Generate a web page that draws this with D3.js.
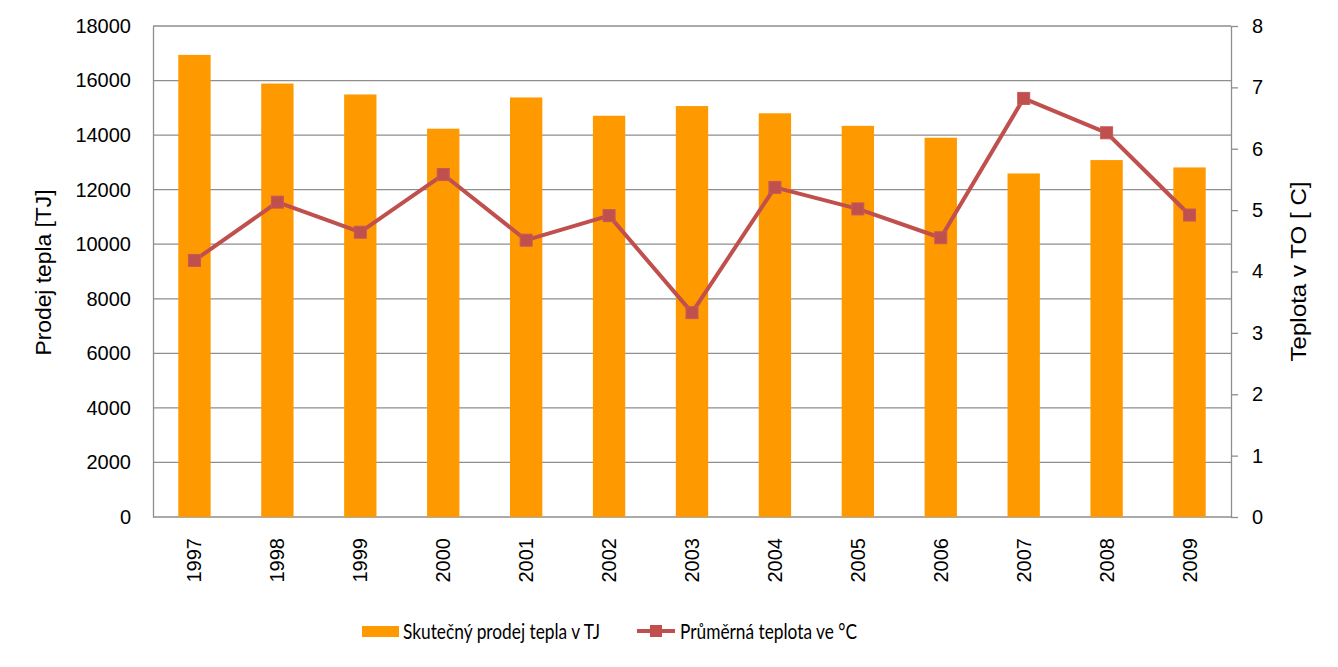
<!DOCTYPE html>
<html><head><meta charset="utf-8">
<script src="https://cdn.jsdelivr.net/npm/d3@7"></script>
<style>body{margin:0;background:#fff}svg{display:block}</style>
</head><body>
<svg id="c" width="1338" height="667"></svg>
<script>
const years = ["1997","1998","1999","2000","2001","2002","2003","2004","2005","2006","2007","2008","2009"];
const heatSales = [16940,15890,15490,14235,15380,14710,15065,14800,14340,13905,12595,13085,12815];
const avgTemp = [4.18,5.13,4.64,5.58,4.51,4.91,3.33,5.37,5.02,4.55,6.82,6.26,4.92];
const leftTicks = [0,2000,4000,6000,8000,10000,12000,14000,16000,18000];
const rightTicks = [0,1,2,3,4,5,6,7,8];
const seriesNames = ["Skutečný prodej tepla v TJ","Průměrná teplota ve °C"];
const axisTitles = ["Prodej tepla [TJ]","Teplota v TO [ C]"];

const svg = d3.select("#c");
const L = 153, R = 1231, T = 26, B = 517;
const font = "'Liberation Sans', Arial, sans-serif";
const barColor = "#FF9900", lineColor = "#C0504D", gridColor = "#8E8E8E";

const x = d3.scaleBand().domain(years).range([L, R]).paddingInner(0.61).paddingOuter(0.305);
const yL = d3.scaleLinear().domain([0, 18000]).range([B, T]);
const yR = d3.scaleLinear().domain([0, 8]).range([B, T]);

// gridlines
svg.append("g").selectAll("line").data(leftTicks).join("line")
  .attr("x1", L).attr("x2", R).attr("y1", d => yL(d)).attr("y2", d => yL(d))
  .attr("stroke", gridColor).attr("stroke-width", 1.3);

// bars
svg.append("g").selectAll("rect").data(years).join("rect")
  .attr("x", d => x(d)).attr("width", x.bandwidth())
  .attr("y", (d, i) => yL(heatSales[i])).attr("height", (d, i) => B - yL(heatSales[i]))
  .attr("fill", barColor);

// left axis
const gL = svg.append("g").attr("transform", `translate(${L},0)`)
  .call(d3.axisLeft(yL).tickValues(leftTicks).tickSize(0).tickPadding(22).tickFormat(d3.format("d")));
gL.select(".domain").attr("stroke", gridColor).attr("stroke-width", 1.3);
gL.selectAll("text").attr("font-family", font).attr("font-size", 20).attr("fill", "#000");

// right axis
const gR = svg.append("g").attr("transform", `translate(${R},0)`)
  .call(d3.axisRight(yR).tickValues(rightTicks).tickSize(7).tickSizeOuter(0).tickPadding(14));
gR.select(".domain").attr("stroke", gridColor).attr("stroke-width", 1.3);
gR.selectAll(".tick line").attr("stroke", gridColor).attr("stroke-width", 1.3);
gR.selectAll("text").attr("font-family", font).attr("font-size", 20).attr("fill", "#000");

// bottom axis labels
const gB = svg.append("g").attr("transform", `translate(0,${B})`)
  .call(d3.axisBottom(x).tickSize(0).tickPadding(0));
gB.select(".domain").remove();
gB.selectAll("text")
  .attr("font-family", font).attr("font-size", 20).attr("fill", "#000")
  .attr("transform", "translate(0,21) rotate(-90)")
  .attr("text-anchor", "end").attr("dy", "0.35em").attr("y", 0).attr("x", 0);

// line
const cx = d => x(d) + x.bandwidth() / 2;
svg.append("path").datum(years)
  .attr("d", d3.line().x(d => cx(d)).y((d, i) => yR(avgTemp[i])))
  .attr("fill", "none").attr("stroke", lineColor).attr("stroke-width", 4).attr("stroke-linejoin", "round");
svg.append("g").selectAll("rect").data(years).join("rect")
  .attr("x", d => cx(d) - 6).attr("y", (d, i) => yR(avgTemp[i]) - 6)
  .attr("width", 12).attr("height", 12).attr("fill", lineColor).attr("stroke", "#C55A57").attr("stroke-width", 1);

// axis titles
svg.append("text").attr("transform", `translate(51,${(T + B) / 2 + 1}) rotate(-90)`)
  .attr("text-anchor", "middle").attr("font-family", font).attr("font-size", 22.5)
  .attr("textLength", 166).attr("lengthAdjust", "spacingAndGlyphs").text(axisTitles[0]);
svg.append("text").attr("transform", `translate(1306,${(T + B) / 2}) rotate(-90)`)
  .attr("text-anchor", "middle").attr("font-family", font).attr("font-size", 22.5)
  .attr("textLength", 180).attr("lengthAdjust", "spacingAndGlyphs").text(axisTitles[1]);

// legend
const lf = "Lato, 'Open Sans', sans-serif";
const lg = svg.append("g");
lg.append("rect").attr("x", 362).attr("y", 626).attr("width", 37).attr("height", 11).attr("fill", barColor);
lg.append("text").attr("x", 403).attr("y", 639).attr("font-family", lf).attr("font-size", 22)
  .attr("textLength", 197).attr("lengthAdjust", "spacingAndGlyphs").text(seriesNames[0]);
lg.append("line").attr("x1", 637).attr("x2", 675).attr("y1", 631).attr("y2", 631)
  .attr("stroke", lineColor).attr("stroke-width", 4);
lg.append("rect").attr("x", 650).attr("y", 625).attr("width", 12).attr("height", 12).attr("fill", lineColor);
lg.append("text").attr("x", 680).attr("y", 639).attr("font-family", lf).attr("font-size", 22)
  .attr("textLength", 177).attr("lengthAdjust", "spacingAndGlyphs").text(seriesNames[1]);
</script>
</body></html>
